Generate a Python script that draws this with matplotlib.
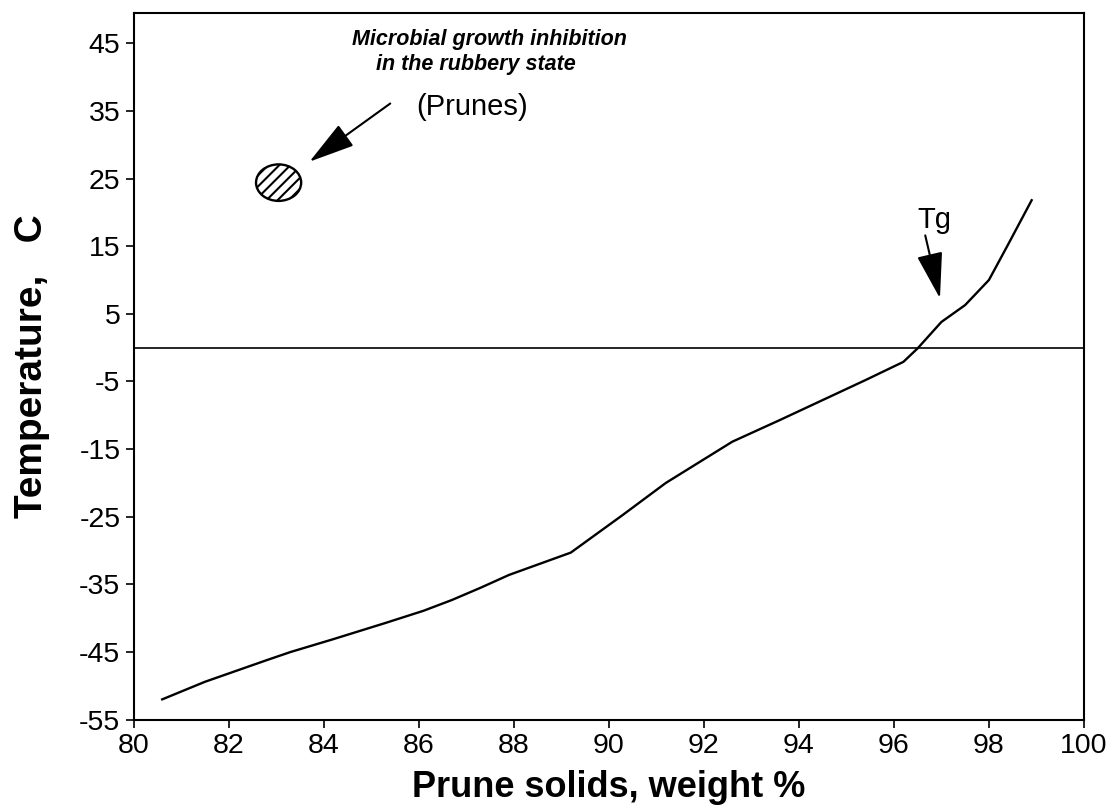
import numpy as np
import matplotlib
matplotlib.use('Agg')
import matplotlib.pyplot as plt
from matplotlib.patches import Ellipse
from matplotlib.ticker import MultipleLocator

plt.rcParams['font.family'] = ['Liberation Sans', 'DejaVu Sans']
plt.rcParams['hatch.linewidth'] = 1.5
plt.rcParams['axes.unicode_minus'] = False

# Tg curve of prunes
solids = [80.6, 81.5, 82.8, 83.3, 84.2, 85.3, 86.1, 86.7, 87.3, 87.9, 89.2,
          90.3, 91.2, 92.6, 93.6, 95.4, 96.2, 96.5, 97.0, 97.5, 98.0, 98.4, 98.9]
temp = [-52.0, -49.4, -46.2, -45.0, -43.1, -40.7, -38.9, -37.3, -35.5, -33.6, -30.3,
        -24.7, -20.0, -13.9, -10.7, -4.8, -2.1, -0.1, 3.8, 6.3, 10.0, 15.2, 21.8]

# hatched spot: prunes storage point
spot_x, spot_y = 83.05, 24.4

xticks = list(range(80, 101, 2))
yticks = list(range(-55, 46, 10))

fig = plt.figure(figsize=(11.14, 8.05), dpi=100)
ax = fig.add_axes([0.120, 0.106, 0.853, 0.878])

ax.plot(solids, temp, color='black', lw=1.7)
ax.axhline(0, color='black', lw=1.2)

ax.add_patch(Ellipse((spot_x, spot_y), 0.95, 5.4, facecolor='white',
                     edgecolor='black', lw=1.7, hatch='///'))

'''
annotations
'''
ax.text(84.6, 45.6, 'Microbial growth inhibition', fontsize=15.5,
        fontweight='bold', style='italic', va='center', ha='left')
ax.text(85.1, 41.8, 'in the rubbery state', fontsize=15.5,
        fontweight='bold', style='italic', va='center', ha='left')
ax.text(85.95, 35.6, '(Prunes)', fontsize=21, va='center', ha='left')
ax.annotate('', xy=(83.7, 27.5), xytext=(85.4, 36.1),
            arrowprops=dict(arrowstyle='-|>,head_length=1.6,head_width=0.45',
                            mutation_scale=18, color='black', lw=1.5,
                            shrinkA=0, shrinkB=0))
ax.text(96.5, 18.9, 'Tg', fontsize=21, va='center', ha='left')
ax.annotate('', xy=(96.97, 7.3), xytext=(96.66, 16.6),
            arrowprops=dict(arrowstyle='-|>,head_length=1.6,head_width=0.45',
                            mutation_scale=18, color='black', lw=1.5,
                            shrinkA=0, shrinkB=0))

ax.set_xlim(80, 100)
ax.set_ylim(-55, 49.5)
ax.set_xticks(xticks)
ax.set_yticks(yticks)
ax.yaxis.set_minor_locator(MultipleLocator(10, offset=5))
ax.tick_params(axis='both', which='both', direction='out', length=6, width=1.2,
               labelsize=20.5)
for s in ax.spines.values():
    s.set_linewidth(1.5)

ax.set_xlabel('Prune solids, weight %', fontsize=26, fontweight='bold', labelpad=8)
ax.set_ylabel('Temperature,   C', fontsize=28, fontweight='bold', labelpad=21)

plt.savefig('out.png', dpi=100)
plt.close()
